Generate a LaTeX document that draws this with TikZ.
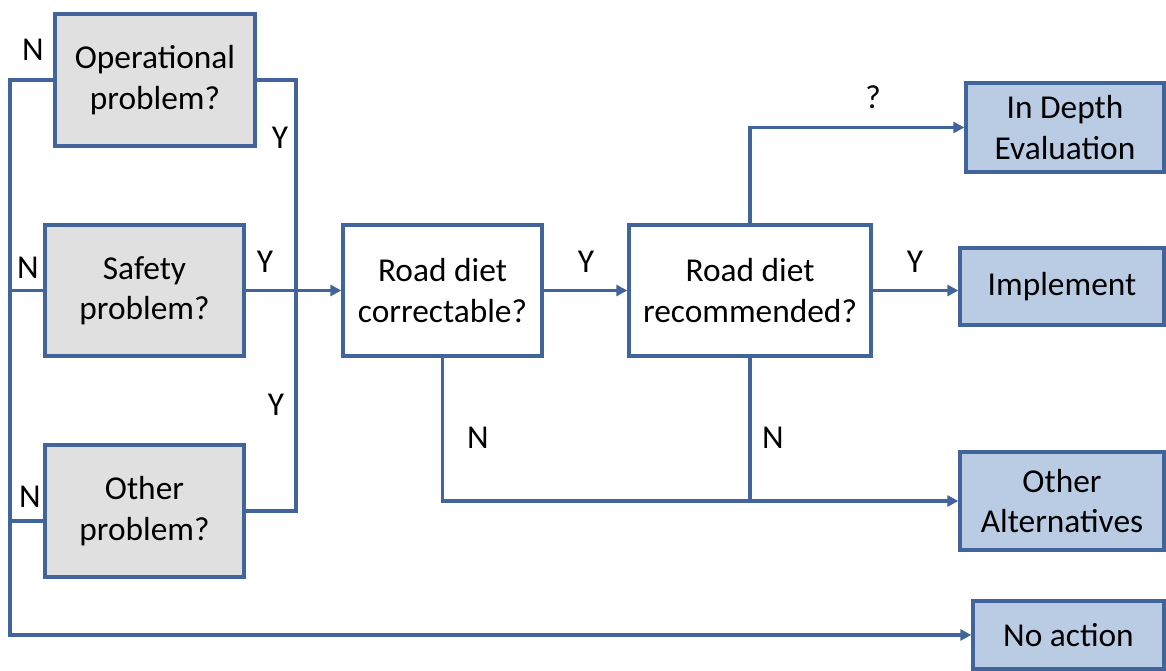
\documentclass[tikz,border=0pt]{standalone}
\usepackage{fontspec}
\setmainfont{Carlito}
\usetikzlibrary{arrows.meta}
\definecolor{lineblue}{HTML}{41659A}
\definecolor{qgray}{HTML}{E0E0E0}
\definecolor{outblue}{HTML}{B9CCE4}
\begin{document}
\begin{tikzpicture}[
    x=0.02cm, y=-0.02cm,
    line/.style={lineblue, line width=1.9pt},
    arrow/.style={line, -{Triangle[length=2.2mm,width=2.2mm]}},
    box/.style={draw=lineblue, line width=1.9pt, align=center, inner sep=0pt,
      font=\fontsize{19}{23}\selectfont},
    question/.style={box, fill=qgray},
    decision/.style={box, fill=white},
    outcome/.style={box, fill=outblue},
    label/.style={font=\fontsize{19}{23}\selectfont}
  ]
    \useasboundingbox (0,0) rectangle (1166,671);
    % left column
    \node[question, minimum width=4cm, minimum height=2.64cm] (op) at (155,80)
      {Operational\\problem?};
    \node[question, minimum width=3.98cm, minimum height=2.62cm] (safe) at (144.5,290.5)
      {Safety\\problem?};
    \node[question, minimum width=3.98cm, minimum height=2.64cm] (other) at (144.5,511)
      {Other\\problem?};
    % middle
    \node[decision, minimum width=3.98cm, minimum height=2.62cm] (corr) at (442.5,290.5)
      {Road diet\\correctable?};
    \node[decision, minimum width=4.84cm, minimum height=2.62cm] (rec) at (750,290.5)
      {Road diet\\recommended?};
    % outcomes
    \node[outcome, minimum width=3.96cm, minimum height=1.78cm] (depth) at (1065,127.5)
      {In Depth\\Evaluation};
    \node[outcome, minimum width=4.08cm, minimum height=1.54cm] (impl) at (1062,286.5)
      {Implement};
    \node[outcome, minimum width=4.08cm, minimum height=1.96cm] (alt) at (1062,501)
      {Other\\Alternatives};
    \node[outcome, minimum width=3.82cm, minimum height=1.36cm] (noact) at (1068.5,635)
      {No action};
    % buses
    \coordinate (ybus) at (296,300);
    \coordinate (nbus) at (10,300);
    \draw[line] (op.east) -| (ybus) |- (other.east);
    \draw[arrow] (safe.east) -- (corr.west);
    \draw[arrow] (op.west) -| (nbus) |- (noact.west);
    \draw[line] (safe.west) -- (safe.west -| nbus);
    \draw[line] ([yshift=-0.2cm]other.west) -- ([yshift=-0.2cm]other.west -| nbus);
    \draw[arrow] (corr.east) -- (rec.west);
    \draw[arrow] (rec.east) -- (rec.east -| impl.west);
    \draw[arrow] (rec.north) |- (depth.west);
    \draw[arrow] (corr.south) |- (alt.west);
    \draw[line] (rec.south) -- (rec.south |- alt.west);
    % labels
    \node[label] (nop) at (33,50) {N};
    \node[label] (yop) at (280,138) {Y};
    \node[label] (nsafe) at (28,268) {N};
    \node[label] (ysafe) at (265,262) {Y};
    \node[label] (yother) at (276,405) {Y};
    \node[label] (nother) at (30,497) {N};
    \node[label] (ycorr) at (586,262) {Y};
    \node[label] (ncorr) at (478,438) {N};
    \node[label] (qrec) at (873,97) {?};
    \node[label] (yrec) at (915,262) {Y};
    \node[label] (nrec) at (773,438) {N};
  \end{tikzpicture}
\end{document}
